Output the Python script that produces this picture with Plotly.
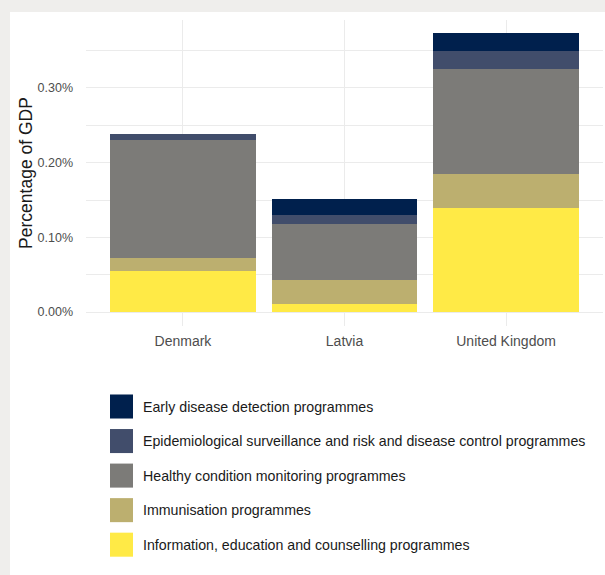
import plotly.graph_objects as go

countries = ["Denmark", "Latvia", "United Kingdom"]

# Values in % of GDP (stack order: bottom to top)
info_edu = [0.055, 0.011, 0.139]
immunisation = [0.018, 0.032, 0.046]
healthy_monitoring = [0.158, 0.075, 0.140]
epi_surveillance = [0.007, 0.012, 0.024]
early_detection = [0.000, 0.022, 0.025]

series_names = [
    "Information, education and counselling programmes",
    "Immunisation programmes",
    "Healthy condition monitoring programmes",
    "Epidemiological surveillance and risk and disease control programmes",
    "Early disease detection programmes",
]
series_values = [info_edu, immunisation, healthy_monitoring, epi_surveillance, early_detection]
series_colors = ["#FFEA46", "#BCAF6F", "#7C7B78", "#414D6B", "#00204D"]

y_tickvals = [0.0, 0.1, 0.2, 0.3]
y_ticktext = [f"{v:.2f}%" for v in y_tickvals]

W, H = 605, 575
L, R, T, B = 86, 603, 20, 325.6  # plot area in pixels


def px_x(px):
    return (px - L) / (R - L)


def px_y(py):
    return (B - py) / (B - T)


fig = go.Figure()
for name, vals, col in zip(series_names, series_values, series_colors):
    fig.add_trace(go.Bar(
        x=countries, y=vals, name=name,
        marker=dict(color=col, line=dict(width=0)),
        showlegend=False,
    ))

shapes = [dict(type="rect", xref="paper", yref="paper",
               x0=px_x(10), x1=px_x(W + 5), y0=px_y(H + 5), y1=px_y(12),
               fillcolor="white", line=dict(width=0), layer="below")]
annotations = []

# custom legend (ggplot-style, top item = top of stack)
row_centers = [406, 440.5, 475, 509.5, 544]
for i, (name, col) in enumerate(zip(series_names[::-1], series_colors[::-1])):
    cy = row_centers[i]
    shapes.append(dict(type="rect", xref="paper", yref="paper",
                       x0=px_x(110), x1=px_x(133), y0=px_y(cy + 12), y1=px_y(cy - 12),
                       fillcolor=col, line=dict(width=0)))
    annotations.append(dict(xref="paper", yref="paper", x=px_x(141), y=px_y(cy),
                            xanchor="left", yanchor="middle", showarrow=False,
                            text=name, font=dict(size=14.2, color="#1a1a1a")))

fig.update_layout(
    width=W, height=H,
    margin=dict(l=L, r=W - R, t=T, b=H - B, autoexpand=False),
    barmode="stack",
    bargap=0.1,
    paper_bgcolor="#efeeec",
    plot_bgcolor="white",
    font=dict(family="Liberation Sans, Arial, sans-serif", color="#4d4d4d"),
    shapes=shapes,
    annotations=annotations,
    showlegend=False,
    xaxis=dict(
        range=[-0.6, 2.6],
        showgrid=True, gridcolor="#ebebeb", gridwidth=1,
        showline=False, zeroline=False, ticks="",
        tickfont=dict(size=14, color="#4d4d4d"),
        ticklabelstandoff=5,
    ),
    yaxis=dict(
        range=[-0.0187, 0.391],
        tickmode="array", tickvals=y_tickvals, ticktext=y_ticktext,
        showgrid=True, gridcolor="#ebebeb", gridwidth=1,
        minor=dict(dtick=0.05, tick0=0, showgrid=True, gridcolor="#ebebeb", gridwidth=1),
        showline=False, zeroline=False, ticks="",
        tickfont=dict(size=12.5, color="#4d4d4d"),
        ticklabelstandoff=12,
        title=dict(text="Percentage of GDP", font=dict(size=17.5, color="#1a1a1a"), standoff=0),
    ),
)

fig.write_html(
    "out.html",
    config={"displayModeBar": False},
    post_script="document.body.style.margin='0';document.body.style.overflow='hidden';document.body.style.background='#efeeec';",
)
